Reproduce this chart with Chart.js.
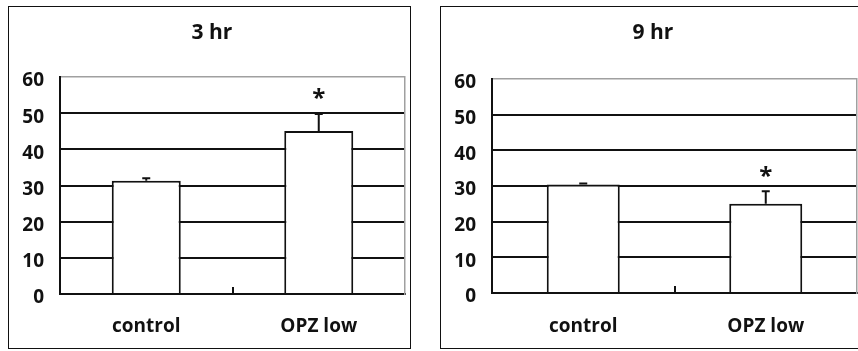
<!DOCTYPE html>
<html>
<head>
<meta charset="utf-8">
<script src="https://cdn.jsdelivr.net/npm/chart.js@4/dist/chart.umd.min.js"></script>
<style>
  html, body { margin: 0; padding: 0; background: #fff; }
  body { width: 858px; height: 351px; position: relative; overflow: hidden; }
  .frame { position: absolute; border: 1.5px solid #111; box-sizing: border-box; }
  .cv { position: absolute; top: 0; }
</style>
</head>
<body>
<div class="frame" style="left:8px; top:6px; width:403px; height:343px;"></div>
<div class="frame" style="left:440px; top:6px; width:430px; height:343px;"></div>
<div class="cv" style="left:0; width:424px; height:351px;"><canvas id="c1"></canvas></div>
<div class="cv" style="left:420px; width:466px; height:351px;"><canvas id="c2"></canvas></div>
<script>
// ---- data ----
const categories = ['control', 'OPZ low'];
const yTicks = [0, 10, 20, 30, 40, 50, 60];
const titles = ['3 hr', '9 hr'];
const means3hr = [31.3, 45.1];
const errors3hr = [0.7, 4.7];
const signif3hr = ['', '*'];
const means9hr = [30.4, 25.0];
const errors9hr = [0.3, 3.5];
const signif9hr = ['', '*'];

const FONT = "'Open Sans', 'DejaVu Sans', sans-serif";

const errorBarPlugin = {
  id: 'errorBars',
  afterDatasetsDraw(chart, args, opts) {
    const ctx = chart.ctx;
    const yScale = chart.scales.y;
    const meta = chart.getDatasetMeta(0);
    const ds = chart.data.datasets[0];
    ctx.save();
    ctx.strokeStyle = '#111';
    ctx.lineWidth = 2;
    meta.data.forEach((bar, i) => {
      const v = ds.data[i];
      const e = opts.errors[i];
      const yTop = yScale.getPixelForValue(v + e);
      ctx.beginPath();
      ctx.moveTo(bar.x, bar.y);
      ctx.lineTo(bar.x, yTop);
      ctx.moveTo(bar.x - 4, yTop);
      ctx.lineTo(bar.x + 4, yTop);
      ctx.stroke();
      if (opts.signif[i]) {
        ctx.fillStyle = '#111';
        ctx.font = 'bold 24px ' + FONT;
        ctx.textAlign = 'center';
        ctx.textBaseline = 'middle';
        const ys = yScale.getPixelForValue(v + e + 5.5);
        ctx.fillText(opts.signif[i], bar.x, ys + 5);
      }
    });
    // small mid tick on the category axis
    const xs = chart.scales.x;
    const mid = Math.round((xs.getPixelForTick(0) + xs.getPixelForTick(1)) / 2);
    ctx.beginPath();
    ctx.moveTo(mid, chart.chartArea.bottom);
    ctx.lineTo(mid, chart.chartArea.bottom - 7);
    ctx.stroke();
    ctx.restore();
  }
};

function makeChart(id, title, means, errors, signif, geom) {
  return new Chart(document.getElementById(id), {
    type: 'bar',
    data: {
      labels: categories,
      datasets: [{
        data: means,
        backgroundColor: '#ffffff',
        borderColor: '#111111',
        borderWidth: 2,
        borderSkipped: 'bottom',
        categoryPercentage: 1.0,
        barPercentage: 0.4
      }]
    },
    options: {
      responsive: true,
      maintainAspectRatio: false,
      animation: false,
      layout: { padding: 0 },
      plugins: {
        legend: { display: false },
        tooltip: { enabled: false },
        title: {
          display: true,
          text: title,
          color: '#111',
          font: { family: FONT, size: 21, weight: 'bold', lineHeight: 1.2 },
          padding: { top: geom.titleTop, bottom: geom.titleBottom }
        },
        errorBars: { errors: errors, signif: signif }
      },
      scales: {
        x: {
          grid: { display: false, drawTicks: false },
          border: { display: true, color: '#111', width: 2 },
          ticks: {
            color: '#111',
            padding: geom.xPad,
            font: { family: FONT, size: 19, weight: 'bold' }
          },
          afterFit: (s) => { s.height = geom.xHeight; }
        },
        y: {
          min: 0,
          max: 60,
          afterBuildTicks: (s) => { s.ticks = yTicks.map(v => ({ value: v })); },
          grid: {
            drawTicks: false,
            color: (c) => (c.tick && c.tick.value === 60) ? '#a0a0a0' : '#111',
            lineWidth: (c) => (c.tick && c.tick.value === 60) ? 1.5 : 2
          },
          border: { display: true, color: '#111', width: 2 },
          ticks: {
            color: '#111',
            padding: 16,
            labelOffset: 4,
            font: { family: FONT, size: 19, weight: 'bold' }
          },
          afterFit: (s) => { s.width = geom.yWidth; }
        },
        yRight: {
          position: 'right',
          min: 0,
          max: 60,
          grid: { drawOnChartArea: false, drawTicks: false },
          border: { display: true, color: '#a0a0a0', width: 1.5 },
          ticks: { display: false },
          afterFit: (s) => { s.width = geom.rightWidth; }
        }
      }
    },
    plugins: [errorBarPlugin]
  });
}

makeChart('c1', titles[0], means3hr, errors3hr, signif3hr,
  { rightWidth: 19, titleTop: 20, titleBottom: 31.8, xHeight: 57, xPad: 21, yWidth: 60 });
makeChart('c2', titles[1], means9hr, errors9hr, signif9hr,
  { rightWidth: 29, titleTop: 20, titleBottom: 33.8, xHeight: 58, xPad: 22, yWidth: 72 });
</script>
</body>
</html>
